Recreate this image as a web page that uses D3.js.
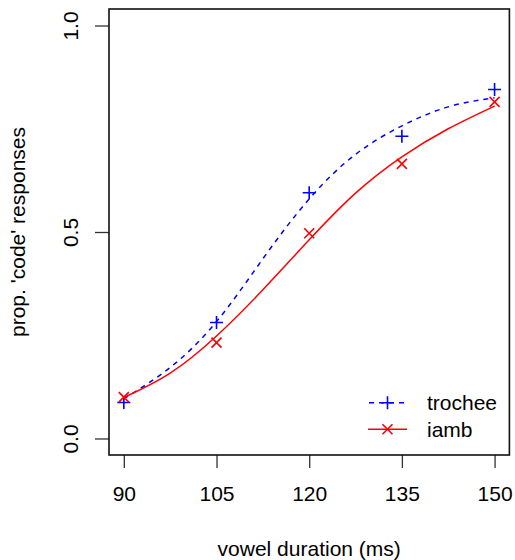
<!DOCTYPE html>
<html>
<head>
<meta charset="utf-8">
<title>prop. code responses</title>
<script type="text/javascript" src="https://cdn.jsdelivr.net/npm/d3@7"></script>
<style>
body { margin:0; background:#fff; }
text { font-family: "Liberation Sans", Arial, sans-serif; fill:#000; }
</style>
</head>
<body>
<div id="chart"></div>
<script>
// observed proportions
var durations = [90, 105, 120, 135, 150];
var trochee = [0.087, 0.281, 0.595, 0.732, 0.845];
var iamb = [0.100, 0.232, 0.497, 0.665, 0.815];

// fitted curves
var fitX = [90, 97.5, 105, 112.5, 120, 127.5, 135, 142.5, 150];
var trocheeFit = [0.096, 0.172, 0.283, 0.435, 0.580, 0.688, 0.757, 0.803, 0.825];
var iambFit = [0.099, 0.158, 0.248, 0.360, 0.481, 0.594, 0.682, 0.750, 0.805];

var xTicks = [90, 105, 120, 135, 150];
var yTicks = [0, 0.5, 1];
var legendNames = ["trochee", "iamb"];

var W = 515, H = 560;
var box = {left:109, top:9, right:509.4, bottom:455};

var svg = d3.select("#chart").append("svg").attr("width", W).attr("height", H);

var x = d3.scaleLinear().domain([87.6, 152.4]).range([box.left, box.right]);
var y = d3.scaleLinear().domain([-0.04, 1.04]).range([box.bottom, box.top]);

// axes
var xAxis = d3.axisBottom(x).tickValues(xTicks).tickSize(13).tickPadding(18).tickFormat(d3.format("d"));
var gx = svg.append("g").attr("transform", "translate(0," + box.bottom + ")").call(xAxis);
gx.select(".domain").remove();
gx.selectAll("line").attr("stroke", "#333").attr("stroke-width", 1.3);
gx.selectAll("text").attr("font-size", 21).attr("fill", "#000");

var yAxis = d3.axisLeft(y).tickValues(yTicks).tickSize(14).tickFormat(d3.format(".1f"));
var gy = svg.append("g").attr("transform", "translate(" + box.left + ",0)").call(yAxis);
gy.select(".domain").remove();
gy.selectAll("line").attr("stroke", "#333").attr("stroke-width", 1.3);
gy.selectAll("text").attr("font-size", 21).attr("fill", "#000")
  .attr("x", null).attr("dy", null)
  .attr("text-anchor", "middle")
  .attr("transform", "translate(-31,0) rotate(-90)");

// frame
svg.append("rect")
  .attr("x", box.left).attr("y", box.top)
  .attr("width", box.right - box.left).attr("height", box.bottom - box.top)
  .attr("fill", "none").attr("stroke", "#111").attr("stroke-width", 1.6);

// titles
svg.append("text").attr("x", (box.left + box.right) / 2).attr("y", 556)
  .attr("text-anchor", "middle").attr("font-size", 21).text("vowel duration (ms)");
svg.append("text").attr("transform", "translate(25," + ((box.top + box.bottom) / 2) + ") rotate(-90)")
  .attr("text-anchor", "middle").attr("font-size", 21).text("prop. 'code' responses");

// curves
var line = d3.line().x(function(d){ return x(d[0]); }).y(function(d){ return y(d[1]); }).curve(d3.curveNatural);
svg.append("path").datum(d3.zip(fitX, trocheeFit)).attr("d", line)
  .attr("fill", "none").attr("stroke", "#0000ff").attr("stroke-width", 1.5).attr("stroke-dasharray", "5,5");
svg.append("path").datum(d3.zip(fitX, iambFit)).attr("d", line)
  .attr("fill", "none").attr("stroke", "#ff0000").attr("stroke-width", 1.5);

function plus(g, cx, cy, col) {
  g.append("path").attr("d", "M" + (cx - 6.5) + "," + cy + "H" + (cx + 6.5) + "M" + cx + "," + (cy - 6.5) + "V" + (cy + 6.5))
    .attr("stroke", col).attr("stroke-width", 1.6).attr("fill", "none");
}
function cross(g, cx, cy, col) {
  var r = 5;
  g.append("path").attr("d", "M" + (cx - r) + "," + (cy - r) + "L" + (cx + r) + "," + (cy + r) + "M" + (cx - r) + "," + (cy + r) + "L" + (cx + r) + "," + (cy - r))
    .attr("stroke", col).attr("stroke-width", 1.6).attr("fill", "none");
}

var pts = svg.append("g");
durations.forEach(function(d, i){
  plus(pts, x(d), y(trochee[i]), "#0000ff");
  cross(pts, x(d), y(iamb[i]), "#ff0000");
});

// legend
var leg = svg.append("g");
var legY = [402.7, 429.3];
var cols = ["#0000ff", "#ff0000"];
legendNames.forEach(function(name, i){
  var ln = leg.append("line").attr("x1", 368).attr("x2", 407).attr("y1", legY[i]).attr("y2", legY[i])
    .attr("stroke", cols[i]).attr("stroke-width", 1.5);
  if (i == 0) { ln.attr("stroke-dasharray", "5,5").attr("stroke-dashoffset", -1); plus(leg, 387.5, legY[i], cols[i]); }
  else { cross(leg, 387.5, legY[i], cols[i]); }
  leg.append("text").attr("x", 427).attr("y", legY[i]).attr("dy", "0.35em").attr("font-size", 21).text(name);
});
</script>
</body>
</html>
